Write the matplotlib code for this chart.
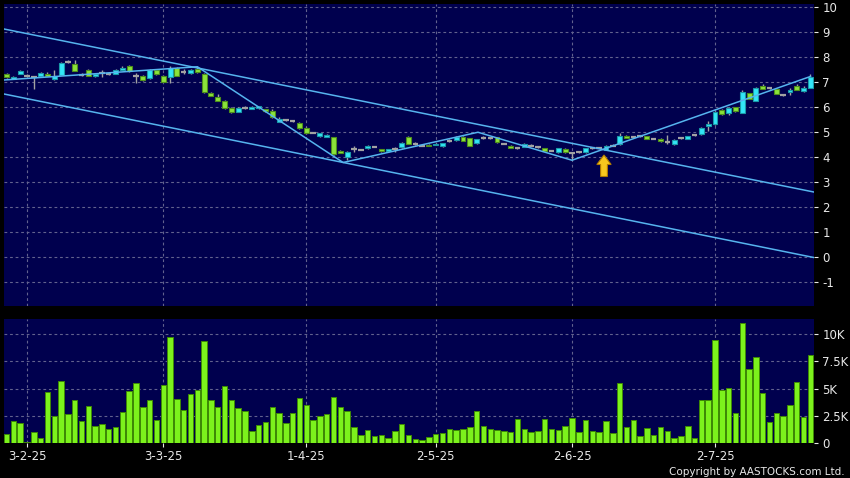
import matplotlib
matplotlib.use("Agg")
import matplotlib.pyplot as plt
from matplotlib.patches import Polygon
import numpy as np

# --- DATA ---
opens = [7.31, 7.13, 7.32, 7.24, 7.20, 7.23, 7.33, 7.11, 7.28, 7.81,
         7.72, 7.28, 7.49, 7.22, 7.35, 7.30, 7.33, 7.48, 7.65, 7.24,
         7.24, 7.15, 7.48, 7.24, 7.21, 7.55, 7.41, 7.35, 7.51, 7.32,
         6.55, 6.41, 6.25, 5.95, 5.81, 5.95, 5.92, 5.95, 5.91, 5.83,
         5.40, 5.47, 5.42, 5.36, 5.17, 4.97, 4.83, 4.80, 4.79, 4.25,
         3.99, 4.31, 4.28, 4.35, 4.40, 4.31, 4.23, 4.31, 4.39, 4.79,
         4.52, 4.45, 4.48, 4.49, 4.43, 4.64, 4.67, 4.81, 4.75, 4.55,
         4.75, 4.77, 4.79, 4.52, 4.45, 4.37, 4.40, 4.45, 4.39, 4.35,
         4.25, 4.19, 4.32, 4.17, 4.19, 4.19, 4.35, 4.37, 4.28, 4.45,
         4.51, 4.85, 4.81, 4.83, 4.83, 4.73, 4.73, 4.59, 4.51, 4.75,
         4.73, 4.87, 4.91, 5.23, 5.31, 5.88, 5.75, 5.99, 5.77, 6.55,
         6.24, 6.85, 6.75, 6.72, 6.48, 6.59, 6.83, 6.65, 6.77]
closes = [7.20, 7.21, 7.44, 7.24, 7.20, 7.35, 7.25, 7.24, 7.75, 7.81,
          7.44, 7.28, 7.25, 7.30, 7.35, 7.30, 7.47, 7.57, 7.44, 7.24,
          7.08, 7.48, 7.31, 7.01, 7.55, 7.25, 7.41, 7.49, 7.38, 6.59,
          6.44, 6.25, 5.95, 5.79, 5.95, 5.95, 6.01, 6.03, 5.83, 5.59,
          5.52, 5.47, 5.42, 5.15, 4.95, 4.97, 4.95, 4.90, 4.11, 4.17,
          4.20, 4.31, 4.28, 4.43, 4.40, 4.23, 4.31, 4.31, 4.55, 4.52,
          4.52, 4.45, 4.45, 4.52, 4.55, 4.64, 4.81, 4.64, 4.45, 4.71,
          4.75, 4.77, 4.59, 4.52, 4.37, 4.37, 4.52, 4.45, 4.39, 4.24,
          4.25, 4.35, 4.19, 4.17, 4.19, 4.35, 4.35, 4.37, 4.44, 4.45,
          4.85, 4.77, 4.81, 4.83, 4.73, 4.73, 4.63, 4.59, 4.67, 4.75,
          4.83, 4.87, 5.17, 5.31, 5.79, 5.71, 5.95, 5.84, 6.59, 6.32,
          6.77, 6.72, 6.75, 6.53, 6.48, 6.68, 6.68, 6.75, 7.20]
highs = [7.36, 7.25, 7.48, 7.30, 7.24, 7.38, 7.38, 7.48, 7.81, 7.86,
         7.88, 7.35, 7.52, 7.32, 7.48, 7.36, 7.50, 7.62, 7.68, 7.35,
         7.27, 7.52, 7.52, 7.28, 7.62, 7.58, 7.50, 7.52, 7.62, 7.35,
         6.58, 6.52, 6.28, 5.98, 5.98, 6.05, 6.04, 6.05, 5.93, 5.90,
         5.58, 5.52, 5.45, 5.38, 5.19, 5.00, 4.97, 4.92, 4.81, 4.27,
         4.22, 4.42, 4.31, 4.46, 4.43, 4.33, 4.33, 4.38, 4.58, 4.82,
         4.58, 4.48, 4.50, 4.54, 4.57, 4.70, 4.83, 4.83, 4.77, 4.73,
         4.85, 4.80, 4.81, 4.55, 4.47, 4.40, 4.54, 4.50, 4.42, 4.37,
         4.28, 4.37, 4.34, 4.20, 4.22, 4.37, 4.38, 4.40, 4.46, 4.50,
         4.95, 4.87, 4.84, 4.86, 4.85, 4.76, 4.75, 4.88, 4.70, 4.78,
         4.85, 4.90, 5.20, 5.45, 5.82, 5.92, 5.98, 6.01, 6.68, 6.57,
         6.80, 6.90, 6.78, 6.74, 6.51, 6.75, 6.92, 6.83, 7.30]
lows = [7.16, 7.10, 7.30, 7.22, 6.71, 7.20, 7.22, 7.09, 7.26, 7.74,
        7.42, 7.25, 7.22, 7.20, 7.18, 7.27, 7.30, 7.46, 7.40, 6.95,
        7.05, 7.12, 7.28, 6.98, 6.95, 7.22, 7.30, 7.33, 7.36, 6.56,
        6.42, 6.22, 5.93, 5.75, 5.78, 5.90, 5.90, 5.93, 5.80, 5.57,
        5.38, 5.44, 5.38, 5.13, 4.93, 4.94, 4.81, 4.78, 4.09, 4.15,
        3.86, 4.20, 4.26, 4.33, 4.38, 4.21, 4.21, 4.18, 4.37, 4.50,
        4.46, 4.43, 4.43, 4.47, 4.41, 4.60, 4.65, 4.62, 4.43, 4.53,
        4.70, 4.72, 4.57, 4.50, 4.35, 4.33, 4.38, 4.42, 4.36, 4.22,
        4.22, 4.17, 4.17, 3.88, 4.16, 4.17, 4.32, 4.34, 4.26, 4.42,
        4.49, 4.75, 4.78, 4.80, 4.71, 4.70, 4.59, 4.50, 4.49, 4.72,
        4.71, 4.84, 4.89, 5.05, 5.28, 5.69, 5.66, 5.80, 5.75, 6.30,
        6.22, 6.70, 6.72, 6.51, 6.45, 6.49, 6.66, 6.60, 6.75]
volume_k = [0.83, 2.07, 1.85, 0.15, 1.0, 0.5, 4.66, 2.47, 5.68, 2.7,
            4.0, 2.07, 3.4, 1.6, 1.76, 1.3, 1.48, 2.87, 4.81, 5.56,
            3.33, 3.98, 2.16, 5.37, 9.75, 4.07, 3.06, 4.48, 4.85, 9.38,
            3.98, 3.36, 5.25, 3.95, 3.2, 2.96, 1.1, 1.7, 1.98, 3.36,
            2.75, 1.88, 2.75, 4.17, 3.49, 2.1, 2.47, 2.72, 4.26, 3.33,
            2.96, 1.51, 0.74, 1.2, 0.71, 0.77, 0.49, 1.14, 1.79, 0.77,
            0.4, 0.28, 0.62, 0.86, 0.96, 1.33, 1.2, 1.27, 1.51, 2.99,
            1.6, 1.33, 1.2, 1.17, 0.99, 2.25, 1.33, 1.02, 1.14, 2.19,
            1.27, 1.2, 1.54, 2.31, 1.02, 2.1, 1.14, 0.99, 2.04, 0.9,
            5.52, 1.45, 2.1, 0.68, 1.42, 0.74, 1.45, 1.08, 0.49, 0.71,
            1.57, 0.49, 3.98, 3.95, 9.44, 4.88, 5.03, 2.81, 10.96, 6.79,
            7.87, 4.57, 1.94, 2.78, 2.47, 3.46, 5.59, 2.38, 8.09]

date_labels = ["3-2-25", "3-3-25", "1-4-25", "2-5-25", "2-6-25", "2-7-25"]
date_idx = [3, 23, 44, 63, 83, 104]

price_ticks = list(range(-1, 11))
vol_ticks = [0, 2.5, 5, 7.5, 10]
vol_labels = ["0", "2.5K", "5K", "7.5K", "10K"]

# trend lines as (bar index, price) vertices
upper_line = [(-0.38, 9.12), (118.5, 2.60)]
lower_line = [(-0.38, 6.52), (118.5, -0.02)]
zigzag = [(-0.38, 7.08), (28.0, 7.61), (49.4, 3.78), (69.2, 4.99), (83.0, 3.87), (118.0, 7.22)]

arrow_idx = 87.7
arrow_tip = 4.08
arrow_base = 3.22

# --- STYLE ---
BG = "#000000"
PANEL = "#00004e"
GRID = "#62628e"
CYAN = "#33e6f7"
CYAN_E = "#1b9aa8"
GREEN = "#8be33a"
GREEN_E = "#4e8f1c"
DOJI = "#a2a2a2"
VOL = "#7cf21c"
VOL_E = "#3f8a05"
LINE = "#56b4ee"
TXT = "#e8e8e8"

n = len(opens)
x = np.arange(n)
xlim = (-0.38, 118.53)

fig = plt.figure(figsize=(8.5, 4.78), dpi=100, facecolor=BG)
ax = fig.add_axes([4 / 850, 172 / 478, 810 / 850, 302 / 478])
axv = fig.add_axes([4 / 850, 34.7 / 478, 810 / 850, 124.3 / 478])

for a in (ax, axv):
    a.set_facecolor(PANEL)
    a.set_xlim(*xlim)
    for s in a.spines.values():
        s.set_visible(False)
    a.yaxis.tick_right()
    a.tick_params(axis="y", colors=TXT, labelcolor=TXT, length=3, width=0.8,
                  pad=3, labelsize=8.5)
    a.set_xticks(date_idx)
    a.grid(True, color=GRID, linestyle=(0, (2.5, 2.5)), linewidth=0.8)
    a.set_axisbelow(True)

# --- PRICE PANEL ---
ax.set_ylim(-1.96, 10.12)
ax.set_yticks(price_ticks)
ax.set_yticklabels([str(t) for t in price_ticks])
ax.tick_params(axis="x", length=0, labelbottom=False)

o = np.array(opens)
c = np.array(closes)
h = np.array(highs)
l = np.array(lows)

ax.vlines(x, l, h, color=DOJI, linewidth=1.0, zorder=3)
up = c > o
dn = c < o
flat = c == o
ax.bar(x[up], (c - o)[up], bottom=o[up], width=0.72, color=CYAN,
       edgecolor=CYAN_E, linewidth=0.8, zorder=4)
ax.bar(x[dn], (o - c)[dn], bottom=c[dn], width=0.72, color=GREEN,
       edgecolor=GREEN_E, linewidth=0.8, zorder=4)
ax.hlines(c[flat], x[flat] - 0.4, x[flat] + 0.4, color=DOJI, linewidth=1.6, zorder=4)

for line in (upper_line, lower_line, zigzag):
    lx, ly = zip(*line)
    ax.plot(lx, ly, color=LINE, linewidth=1.1, zorder=5)

# yellow arrow marker
hw, sw, hl = 1.05, 0.5, 0.38
arrow = Polygon([(arrow_idx, arrow_tip),
                 (arrow_idx + hw, arrow_tip - hl),
                 (arrow_idx + sw, arrow_tip - hl),
                 (arrow_idx + sw, arrow_base),
                 (arrow_idx - sw, arrow_base),
                 (arrow_idx - sw, arrow_tip - hl),
                 (arrow_idx - hw, arrow_tip - hl)],
                closed=True, facecolor="#f7c81e", edgecolor="#b07a00",
                linewidth=0.8, zorder=6)
ax.add_patch(arrow)

# --- VOLUME PANEL ---
axv.set_ylim(0, 11.37)
axv.bar(x, volume_k, width=0.8, color=VOL, edgecolor=VOL_E, linewidth=0.7, zorder=3)
axv.set_yticks(vol_ticks)
axv.set_yticklabels(vol_labels)
axv.set_xticklabels(date_labels)
axv.tick_params(axis="x", colors=TXT, labelcolor=TXT, length=3, width=0.8,
                pad=2, labelsize=8.5)

fig.text(845 / 850, 6 / 478, "Copyright by AASTOCKS.com Ltd.", color=TXT,
         fontsize=7.5, ha="right", va="center")

fig.savefig("out.png", dpi=100, facecolor=BG)
